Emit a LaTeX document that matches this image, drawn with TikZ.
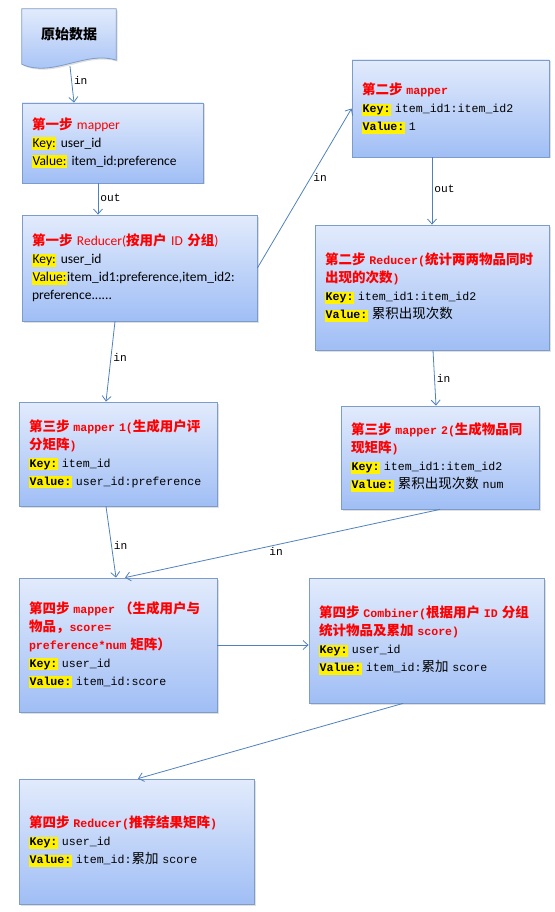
\documentclass[tikz,border=0pt]{standalone}
\usepackage{fontspec}
\setmainfont{Carlito}
\newfontfamily\zhfont{Noto Sans CJK SC}
\newfontfamily\codefont{Liberation Mono}[Scale=0.86]
\usetikzlibrary{positioning,calc,backgrounds,arrows.meta,shadows}
\definecolor{mrTop}  {RGB}{226,235,252}
\definecolor{mrBot}  {RGB}{160,190,245}
\definecolor{mrEdge} {RGB}{124,156,202}
\definecolor{mrArrow}{RGB}{ 79,129,189}
\newcommand\zh[1]{{\zhfont #1}}
\newcommand\hl[1]{{\setlength\fboxsep{0.6pt}\colorbox{yellow}{\vphantom{Kyl}#1}}}
\newcommand\tit[1]{{\color{red}\bfseries #1}}

\begin{document}
\begin{tikzpicture}[x=1pt,y=-1pt]

% ---------------------------------------------------------------- styles
\tikzset{
  sheet/.style    = {draw=mrEdge, line width=0.8pt, top color=mrTop, bottom color=mrBot,
                     drop shadow={shadow xshift=1.5pt, shadow yshift=-1.5pt, opacity=0.25}},
  card/.style     = {sheet, align=left, inner xsep=10pt, inner ysep=4pt,
                     font=\fontsize{13.5}{18}\selectfont},
  codecard/.style = {card, font=\codefont\fontsize{13.5}{18}\selectfont},
  flow/.style     = {draw=mrArrow, line width=0.8pt,
                     -{Straight Barb[length=5pt,width=9pt]}},
  tag/.style      = {font=\codefont\fontsize{13}{14}\selectfont, inner sep=2pt},
}

\useasboundingbox (0,0) rectangle (554,912);

% ============================================================ source data
\node[minimum width=94pt, minimum height=51pt, inner sep=0pt,
      font=\zhfont\bfseries\fontsize{14}{16}\selectfont] (raw) at (69,34.5) {原始数据};
\begin{scope}[on background layer]
  \path[sheet] (raw.north west) -- (raw.north east) -- (raw.south east)
    .. controls +(-30,-10) and +(30,14) .. ([yshift=-4pt]raw.south west) -- cycle;
\end{scope}

% ============================================================ step one
\node[card, text width=161pt, minimum height=80pt] (s1map) at (112.5,143)
  {{\color{red}\zh{\bfseries 第一步}~mapper}\\
   \hl{Key:}~user\_id\\
   \hl{Value:}~item\_id:preference};
\node[card, text width=215pt, minimum height=106pt] (s1red) at (139.5,268)
  {{\color{red}\zh{\bfseries 第一步}~Reducer(\zh{\bfseries 按用户}~ID~\zh{\bfseries 分组})}\\
   \hl{Key:}~user\_id\\
   \hl{Value:}item\_id1:preference,item\_id2:\\
   preference......};

% ============================================================ step two
\node[codecard, text width=177pt, minimum height=97pt] (s2map) at (450.5,108.5)
  {\tit{\zh{第二步}~mapper}\\
   \hl{\textbf{Key:}}~item\_id1:item\_id2\\
   \hl{\textbf{Value:}}~1};
\node[codecard, text width=214pt, minimum height=125pt] (s2red) at (432,287.5)
  {\tit{\zh{第二步}~Reducer(\zh{统计两两物品同时}}\\
   \tit{\zh{出现的次数})}\\
   \hl{\textbf{Key:}}~item\_id1:item\_id2\\
   \hl{\textbf{Value:}}~\zh{累积出现次数}};

% ============================================================ step three
\node[codecard, text width=178pt, minimum height=104pt] (s3user) at (118,454)
  {\tit{\zh{第三步}~mapper~1(\zh{生成用户评}}\\
   \tit{\zh{分矩阵})}\\
   \hl{\textbf{Key:}}~item\_id\\
   \hl{\textbf{Value:}}~user\_id:preference};
\node[codecard, text width=178pt, minimum height=103pt] (s3item) at (440,457.5)
  {\tit{\zh{第三步}~mapper~2(\zh{生成物品同}}\\
   \tit{\zh{现矩阵})}\\
   \hl{\textbf{Key:}}~item\_id1:item\_id2\\
   \hl{\textbf{Value:}}~\zh{累积出现次数}~num};

% ============================================================ step four
\node[codecard, text width=178pt, minimum height=134pt] (s4map) at (118,645)
  {\tit{\zh{第四步}~mapper~\zh{（生成用户与}}\\
   \tit{\zh{物品，}score=}\\
   \tit{preference*num~\zh{矩阵）}}\\
   \hl{\textbf{Key:}}~user\_id\\
   \hl{\textbf{Value:}}~item\_id:score};
\node[codecard, text width=215pt, minimum height=125pt] (s4comb) at (426.5,640.5)
  {\tit{\zh{第四步}~Combiner(\zh{根据用户}~ID~\zh{分组}}\\
   \tit{\zh{统计物品及累加}~score)}\\
   \hl{\textbf{Key:}}~user\_id\\
   \hl{\textbf{Value:}}~item\_id:\zh{累加}~score};
\node[codecard, text width=215pt, minimum height=125pt] (s4red) at (136.5,841.5)
  {\tit{\zh{第四步}~Reducer(\zh{推荐结果矩阵})}\\
   \hl{\textbf{Key:}}~user\_id\\
   \hl{\textbf{Value:}}~item\_id:\zh{累加}~score};

% ------------------------------------------------------------ connectors
\draw[flow] ([xshift=1pt,yshift=-6pt]raw.south) -- ([xshift=-38.5pt]s1map.north)
  node[tag, pos=0.4, right] {in};
\draw[flow] ([xshift=-14.5pt]s1map.south) -- ([xshift=-14.5pt]s1map.south |- s1red.north)
  node[tag, pos=0.45, right] {out};
\draw[flow] (s1red.east) -- (s2map.west)
  node[tag, pos=0.57, right] {in};
\draw[flow] ([xshift=-18.5pt]s2map.south) -- ([xshift=-18.5pt]s2map.south |- s2red.north)
  node[tag, pos=0.47, right] {out};
\draw[flow] ([xshift=1pt]s2red.south) -- ([xshift=-4pt]s3item.north)
  node[tag, pos=0.5, right] {in};
\draw[flow] ([xshift=-24.5pt]s1red.south) -- ([xshift=-12pt]s3user.north)
  node[tag, pos=0.45, right] {in};
\draw[flow] ([xshift=-12pt]s3user.south) -- ([xshift=-2pt]s4map.north)
  node[tag, pos=0.55, right] {in};
\draw[flow] (s3item.south) -- ([xshift=7pt]s4map.north)
  node[tag, pos=0.52, below] {in};
\draw[flow] (s4map.east) -- (s4map.east -| s4comb.west);
\draw[flow] ([xshift=-23.5pt]s4comb.south) -- ([xshift=1.5pt]s4red.north);

\end{tikzpicture}
\end{document}
